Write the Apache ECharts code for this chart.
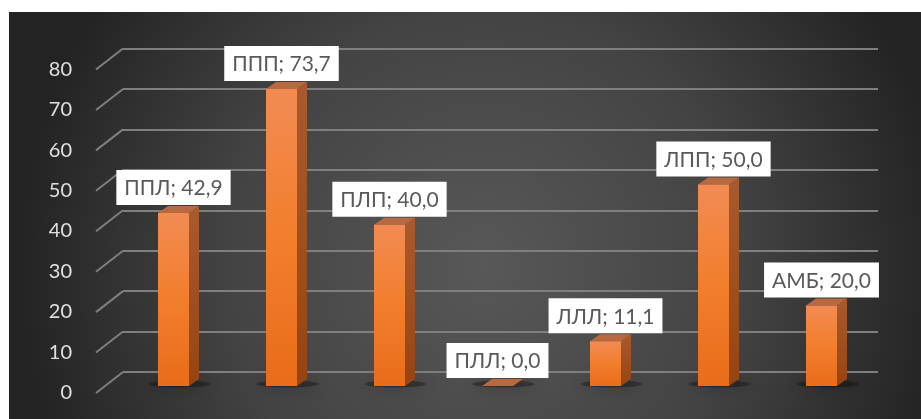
<!DOCTYPE html>
<html>
<head>
<meta charset="utf-8">
<script src="https://cdn.jsdelivr.net/npm/echarts@6/dist/echarts.min.js"></script>
<style>
  html, body { margin: 0; padding: 0; background: #ffffff; }
  #chart { width: 921px; height: 419px; }
</style>
</head>
<body>
<div id="chart"></div>
<script>
// Chart data
const categories = ['ППЛ', 'ППП', 'ПЛП', 'ПЛЛ', 'ЛЛЛ', 'ЛПП', 'АМБ'];
const values = [42.9, 73.7, 40.0, 0.0, 11.1, 50.0, 20.0];
const yTicks = [0, 10, 20, 30, 40, 50, 60, 70, 80];

// 3D look: bar thickness and floor depth (pixels)
const DEPTH_X = 10, DEPTH_Y = 7;
const WALL_DX = 27, WALL_DY = 21;
const FONT = 'Lato, "Open Sans", "Noto Sans", sans-serif';

function fmt(v) { return v.toFixed(1).replace('.', ','); }

const chart = echarts.init(document.getElementById('chart'), null, { renderer: 'canvas' });

const option = {
  animation: false,
  graphic: [{
    type: 'rect',
    left: 9, top: 12,
    shape: { width: 912, height: 407 },
    z: -100,
    style: {
      fill: new echarts.graphic.RadialGradient(0.52, 0.62, 1.15, [
        { offset: 0, color: '#585858' },
        { offset: 0.55, color: '#434343' },
        { offset: 1, color: '#232323' }
      ])
    }
  }],
  grid: [
    // front edge of the floor: tick labels
    { left: 96, top: 69.3, width: 27, height: 323.2 },
    // back wall: gridlines
    { left: 123, top: 48.5, width: 755, height: 323.5 },
    // bar plane
    { left: 119.5, top: 63.6, width: 756, height: 322.4 }
  ],
  xAxis: [
    { gridIndex: 0, type: 'value', min: 0, max: 1, show: false },
    { gridIndex: 1, type: 'value', min: 0, max: 1, show: false },
    { gridIndex: 2, type: 'category', data: categories, show: false }
  ],
  yAxis: [
    {
      gridIndex: 0, type: 'value', min: 0, max: 80, interval: 10,
      axisLine: { show: false }, axisTick: { show: false }, splitLine: { show: false },
      axisLabel: { color: '#e0e0e0', fontSize: 20, fontFamily: FONT, margin: 24 }
    },
    {
      gridIndex: 1, type: 'value', min: 0, max: 80, interval: 10,
      axisLine: { show: false }, axisTick: { show: false }, axisLabel: { show: false },
      splitLine: { show: true, lineStyle: { color: '#7f7f7f', width: 2 } }
    },
    { gridIndex: 2, type: 'value', min: 0, max: 80, interval: 10, show: false }
  ],
  series: [
    {
      // slanted side-wall gridlines joining the back wall to the front edge
      type: 'custom',
      xAxisIndex: 1, yAxisIndex: 1,
      silent: true,
      data: yTicks.map(v => [0, v]),
      renderItem(params, api) {
        const p = api.coord([0, api.value(1)]);
        return {
          type: 'line',
          shape: { x1: p[0], y1: p[1], x2: p[0] - WALL_DX, y2: p[1] + WALL_DY },
          style: { stroke: '#7f7f7f', lineWidth: 2 }
        };
      }
    },
    {
      type: 'custom',
      xAxisIndex: 2, yAxisIndex: 2,
      data: values.map((v, i) => [i, v]),
      renderItem(params, api) {
        const i = api.value(0);
        const v = api.value(1);
        const base = api.coord([i, 0]);
        const top = api.coord([i, v]);
        const w = api.size([1, 0])[0] * 0.287;
        const x0 = base[0] - w / 2, x1 = base[0] + w / 2;
        const yb = base[1], yt = top[1];
        return {
          type: 'group',
          children: [
            {
              // soft floor shadow
              type: 'ellipse',
              shape: { cx: base[0] + 6, cy: yb - 2, rx: w * 1.0, ry: 3.5 },
              style: { fill: 'rgba(0,0,0,0.3)', shadowBlur: 16, shadowColor: 'rgba(0,0,0,1)' }
            },
            {
              type: 'polygon',
              shape: { points: [[x1, yt], [x1 + DEPTH_X, yt - DEPTH_Y], [x1 + DEPTH_X, yb - DEPTH_Y], [x1, yb]] },
              style: {
                fill: new echarts.graphic.LinearGradient(0, 0, 0, 1, [
                  { offset: 0, color: '#A95A2E' },
                  { offset: 1, color: '#964412' }
                ])
              }
            },
            {
              type: 'polygon',
              shape: { points: [[x0, yt], [x1, yt], [x1 + DEPTH_X, yt - DEPTH_Y], [x0 + DEPTH_X, yt - DEPTH_Y]] },
              style: { fill: '#B8693F' }
            },
            {
              type: 'rect',
              shape: { x: x0, y: yt, width: w, height: yb - yt },
              style: {
                fill: new echarts.graphic.LinearGradient(0, 0, 0, 1, [
                  { offset: 0, color: '#F28B53' },
                  { offset: 0.5, color: '#F27E2C' },
                  { offset: 1, color: '#E96C1A' }
                ])
              }
            },
            {
              type: 'text',
              style: {
                x: base[0], y: yt - DEPTH_Y - 1,
                text: categories[i] + '; ' + fmt(v),
                align: 'center', verticalAlign: 'bottom',
                fill: '#595959',
                font: '21px ' + FONT,
                backgroundColor: '#ffffff',
                padding: [8, 8, 6, 8]
              }
            }
          ]
        };
      }
    }
  ]
};

chart.setOption(option);
</script>
</body>
</html>
